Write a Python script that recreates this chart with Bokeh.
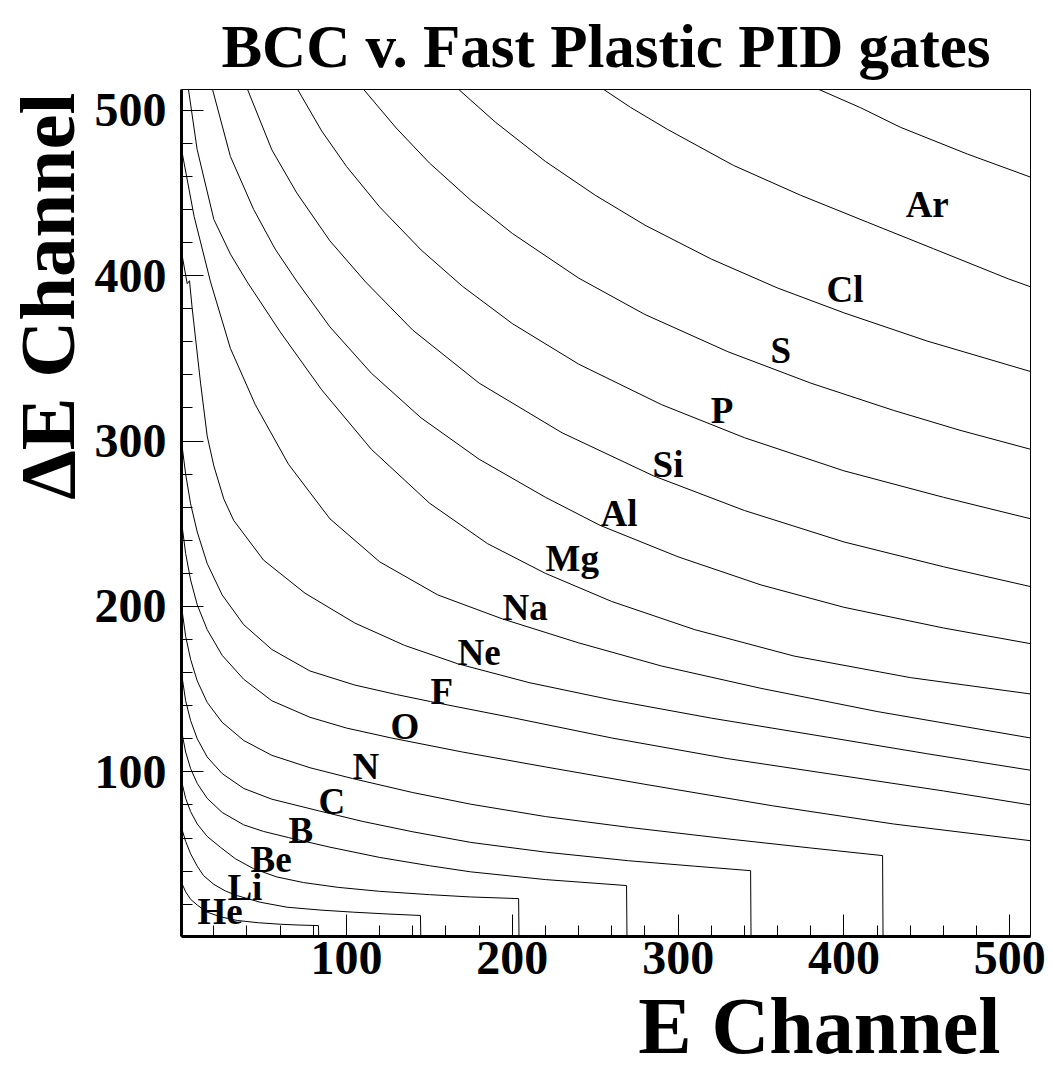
from bokeh.plotting import figure
from bokeh.models import Range1d, SingleIntervalTicker, Title
from bokeh.core.properties import value
from bokeh.embed import file_html
from bokeh.resources import INLINE

FONT = "Liberation Serif"

# Lower boundary of each element gate, as (E channel, dE channel) pairs.
# The six lightest gates are closed by a vertical cut at high E.
he_e  = [0.5, 3, 6, 10, 16, 24, 34.1, 47, 60.2, 72, 83.1, 83.4]
he_de = [33.1, 27.5, 23, 19.5, 15.2, 12.4, 10.2, 8.8, 7.9, 7.4, 7.1, -5]
li_e  = [0.5, 3, 6, 10, 13.8, 20, 27, 34.1, 48, 64.2, 84, 104.2, 125, 144.6, 144.9]
li_de = [66.2, 58, 50.5, 43, 37.3, 32, 28, 25.2, 21.2, 18.2, 16.5, 15.2, 14.1, 13.2, -5]
be_e  = [0.5, 3, 6, 10, 16, 24, 33, 43.9, 58, 74.1, 95, 120, 150, 174.8, 203.8, 204.1]
be_de = [94.6, 84, 76, 68.5, 61, 54.4, 47.5, 41.5, 36.5, 33.1, 30.2, 27.8, 25.8, 24.4, 23.4, -5]
b_e   = [0.5, 3, 6, 10, 16, 25, 38, 50, 65, 90, 120, 150, 174.8, 220, 268.9, 269.2]
b_de  = [124.8, 112, 102, 93, 84, 75.5, 68, 64, 60.3, 54.5, 48.3, 43.3, 39.6, 34.9, 31.3, -5]
c_e   = [0.5, 3, 6, 10, 16, 25, 38, 55, 83.1, 110, 140, 174.8, 220, 270, 310, 343.7, 344.0]
c_de  = [159.7, 143, 131, 120, 109, 99, 90, 83.5, 76.5, 70.0, 63.8, 57.4, 51.5, 46.3, 43.0, 40.3, -5]
n_e   = [0.5, 3, 6, 10, 16, 25, 38, 55, 78, 103.6, 140, 174.8, 220, 270, 330, 380, 423.3, 423.6]
n_de  = [200.1, 182, 168, 155, 142, 130, 119, 110, 102.5, 96, 87.5, 80.5, 73, 66.5, 59.5, 54, 49.4, -5]
o_e   = [0.5, 3, 6, 10, 16, 25, 38, 55, 78, 100, 126.6, 170, 220, 280, 357, 430, 512.6]
o_de  = [251.4, 232, 216, 201, 186, 170.5, 156, 143, 133, 126.5, 120.6, 112, 103, 92.5, 79.5, 68.5, 58.4]
f_e   = [0.5, 3, 6, 10, 16, 25, 38, 55, 78, 105, 130, 150.7, 200, 260, 330, 400, 460, 512.6]
f_de  = [299.7, 280, 262, 245, 226, 207, 189, 174, 161, 152.5, 146.8, 142.5, 132.8, 120.5, 108, 97.5, 88.5, 80]
ne_e  = [0.5, 3.94, 5.33, 6.95, 12, 16, 20, 26, 32, 50, 75, 105, 135, 167, 210, 260, 320, 390, 450, 512.6]
ne_de = [414.3, 395.1, 396.9, 380.1, 335, 303, 285, 265, 252, 228, 208, 190, 176.5, 165.4, 154, 143.5, 132.5, 121, 111, 101]
na_e  = [0.5, 8.1, 18, 30, 45, 65, 90, 120, 155, 194, 240, 290, 350, 420, 512.6]
na_de = [476.4, 435.8, 396.2, 356, 322, 286, 253, 227, 207, 192.5, 178, 164, 150.5, 136.5, 120.5]
mg_e  = [4.7, 9.9, 20, 30, 40.1, 60, 85, 115, 150, 185, 220, 260, 310, 370, 440, 512.6]
mg_de = [512.6, 476.4, 434, 413, 396.2, 366, 331, 295, 262.5, 238, 220, 203, 186, 170, 157, 147.1]
al_e  = [19.2, 30, 44, 57, 70.3, 90, 115, 145, 180, 220, 253, 300, 350, 400, 460, 512.6]
al_de = [512.6, 472, 440, 416, 396.2, 369, 341, 314, 289, 266, 249, 230, 213, 199.5, 187, 177.5]
si_e  = [40.3, 55, 70, 90, 111.5, 140, 180, 230, 285, 340, 400, 460, 512.6]
si_de = [512.6, 476, 450, 421, 396.2, 367, 335, 305, 279, 258, 239, 224, 212]
p_e   = [70.5, 85, 100, 120, 145, 170, 200, 240, 290, 340, 400, 460, 512.6]
p_de  = [512.6, 487.5, 466, 441.5, 415.5, 393.5, 371, 346.5, 322, 302, 282, 266, 253]
s_e   = [110.3, 130, 150, 175, 200, 240, 280, 330, 380, 430, 470, 512.6]
s_de  = [512.6, 489.2, 468.1, 445.5, 425.5, 398.5, 376.5, 354, 335, 318.5, 306.5, 295]
cl_e  = [167.6, 190, 220, 250, 280, 320, 360, 400, 450, 512.6]
cl_de = [512.6, 492.6, 469, 448.6, 430.5, 410, 392.5, 377.5, 360.5, 342]
ar_e  = [255.0, 271.3, 293.4, 333.4, 373.8, 414.1, 454.1, 499.0, 512.6]
ar_de = [512.6, 501.7, 488.5, 466.6, 448.6, 432.3, 416.2, 398.1, 393.2]
# Upper boundary of the Ar gate
ar_top_e  = [384.7, 410.0, 434.2, 474.4, 512.6]
ar_top_de = [512.6, 501.5, 489.6, 473.5, 459.5]

# Gate names and where they are written
elements = ["He", "Li", "Be", "B", "C", "N", "O", "F", "Ne", "Na",
            "Mg", "Al", "Si", "P", "S", "Cl", "Ar"]
label_e  = [10.2, 28.2, 42.1, 65.0, 83.1, 103.6, 126.6, 150.7, 167.0, 194.1,
            220.0, 253.2, 284.6, 319.6, 355.7, 389.5, 437.2]
label_de = [15.6, 30.1, 46.9, 64.4, 81.9, 103.0, 127.2, 148.9, 172.4, 199.5,
            229.1, 256.2, 285.8, 318.4, 354.5, 391.9, 443.2]

edges = [
    (he_e, he_de), (li_e, li_de), (be_e, be_de), (b_e, b_de), (c_e, c_de),
    (n_e, n_de), (o_e, o_de), (f_e, f_de), (ne_e, ne_de), (na_e, na_de),
    (mg_e, mg_de), (al_e, al_de), (si_e, si_de), (p_e, p_de), (s_e, s_de),
    (cl_e, cl_de), (ar_e, ar_de), (ar_top_e, ar_top_de),
]

p = figure(width=1053, height=1078, output_backend="svg", toolbar_location=None,
           x_range=Range1d(0.5, 512.5), y_range=Range1d(0.5, 512.5),
           min_border_left=181, min_border_right=23,
           min_border_top=87, min_border_bottom=142)
p.background_fill_color = "white"
p.border_fill_color = "white"
p.outline_line_color = "black"
p.outline_line_width = 1
p.grid.visible = False

p.title.text = "BCC v. Fast Plastic PID gates"
p.title.align = "center"
p.title.text_font = FONT
p.title.text_font_style = "bold"
p.title.text_font_size = "61px"
p.title.text_color = "black"
p.title.standoff = 20

for ax in (p.xaxis, p.yaxis):
    ax.ticker = SingleIntervalTicker(interval=100, num_minor_ticks=5)
    ax.major_tick_in = 22
    ax.major_tick_out = 0
    ax.minor_tick_in = 11
    ax.minor_tick_out = 0
    ax.axis_line_width = 3
    ax.major_tick_line_width = 1
    ax.minor_tick_line_width = 1
    ax.major_label_text_font = FONT
    ax.major_label_text_font_style = "bold"
    ax.major_label_text_font_size = "48px"
    ax.major_label_text_color = "black"
p.xaxis.major_label_standoff = 5
p.yaxis.major_label_standoff = 15

# Axis titles, flush with the far end of each axis
ytitle = Title(text="\u0394E Channel", align="right", vertical_align="bottom",
               offset=3, standoff=2, text_font=FONT, text_font_style="bold",
               text_font_size="79px", text_color="black")
xtitle = Title(text="E Channel", align="right", vertical_align="top",
               offset=30, standoff=10, text_font=FONT, text_font_style="bold",
               text_font_size="80px", text_color="black")
p.add_layout(ytitle, "left")
p.add_layout(xtitle, "below")

for e_vals, de_vals in edges:
    p.line(e_vals, de_vals, line_color="black", line_width=1)

p.text(x=label_e, y=label_de, text=elements, text_font=value(FONT),
       text_font_style="bold", text_font_size="37px", text_color="black",
       text_align="left", text_baseline="alphabetic")

open("out.html", "w").write(file_html(p, INLINE))
